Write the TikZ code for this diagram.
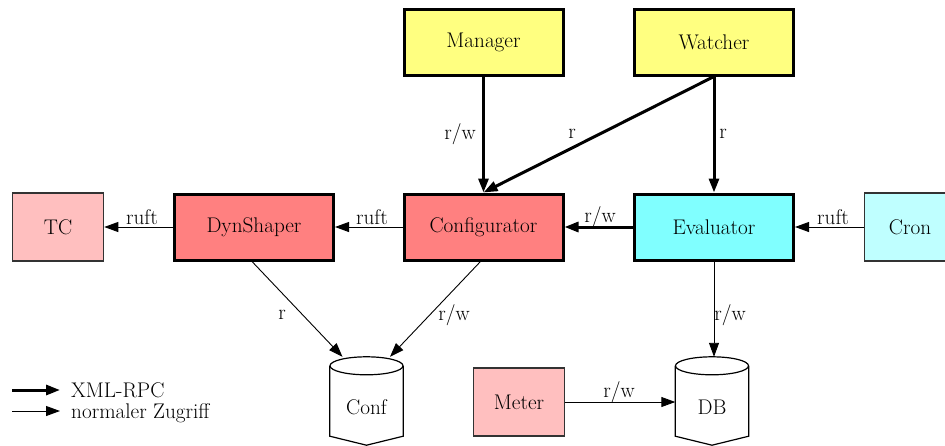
\documentclass[tikz,border=0pt]{standalone}
\usepackage{fontspec}
\usetikzlibrary{arrows.meta}

\definecolor{yel}{RGB}{255,255,128}
\definecolor{red1}{RGB}{255,128,128}
\definecolor{red2}{RGB}{255,191,191}
\definecolor{cya1}{RGB}{128,255,255}
\definecolor{cya2}{RGB}{191,255,255}

\tikzset{
  txt/.style={font=\fontsize{21.2}{25}\selectfont},
  bigbox/.style={txt, draw=black, line width=3pt, minimum width=159pt, minimum height=66pt, inner sep=0pt},
  smallbox/.style={txt, draw=black!80, line width=1.5pt, minimum width=91pt, minimum height=68pt, inner sep=0pt},
  cylbox/.style={txt, minimum width=73pt, minimum height=88pt, inner sep=0pt},
  lbl/.style={txt, inner sep=0pt},
  tip/.style={-{Triangle[length=14pt,width=10pt]}},
  rpc/.style={tip, line width=3pt},
  plain/.style={tip, line width=0.9pt},
}

% cylinder outline around a named node
\newcommand{\drumshape}[1]{%
  \draw[line width=1.2pt, fill=white]
    ([yshift=-9pt]#1.north west) -- ([yshift=9pt]#1.south west) -- (#1.south)
    -- ([yshift=9pt]#1.south east) -- ([yshift=-9pt]#1.north east);
  \draw[line width=1.2pt, fill=white] ([yshift=-9pt]#1.north) ellipse (36.5pt and 9pt);
}

\begin{document}
\begin{tikzpicture}[x=1pt, y=-1pt]
\useasboundingbox (0,0) rectangle (945,445);
\begin{scope}
\clip (0,0) rectangle (945,445);

% components
\node[bigbox, fill=yel]  (mgr)  at (483.5,42) {Manager};
\node[bigbox, fill=yel]  (wat)  at (714,42)   {Watcher};
\node[bigbox, fill=red1] (dyn)  at (254,227)  {DynShaper};
\node[bigbox, fill=red1] (cfg)  at (483.5,227){Configurator};
\node[bigbox, fill=cya1] (eval) at (714,227)  {Evaluator};
\node[smallbox, fill=red2] (tc)   at (58,227)   {TC};
\node[smallbox, fill=cya2] (cron) at (910,227)  {Cron};
\node[smallbox, fill=red2] (meter) at (519,402) {Meter};

% data stores
\node[cylbox] (conf) at (366.5,401) {};
\drumshape{conf}
\node[cylbox] (db) at (712,401) {};
\drumshape{db}
\node[lbl] (conftxt) at (366.5,407) {Conf};
\node[lbl] (dbtxt) at (712,407) {DB};

% XML-RPC calls
\draw[rpc] (mgr.south) -- (cfg.north);
\draw[rpc] (wat.south) -- (cfg.north);
\draw[rpc] (wat.south) -- (eval.north);
\draw[rpc] (eval.west) -- (cfg.east);

% plain accesses
\draw[plain] (cfg.west) -- (dyn.east);
\draw[plain] (dyn.west) -- (tc.east);
\draw[plain] (cron.west) -- (eval.east);
\draw[plain] ([xshift=-2pt]dyn.south) -- ([xshift=-24pt]conf.north);
\draw[plain] ([xshift=-3pt]cfg.south) -- ([xshift=23.5pt]conf.north);
\draw[plain] (eval.south) -- ([xshift=2pt]db.north);
\draw[plain] (meter.east) -- (meter.east -| db.west);

% edge labels
\node[lbl] (l1) at (460,134) {r/w};
\node[lbl] (l2) at (572,134) {r};
\node[lbl] (l3) at (723,134) {r};
\node[lbl] (l4) at (600,217) {r/w};
\node[lbl] (l5) at (372,217) {ruft};
\node[lbl] (l6) at (142,217) {ruft};
\node[lbl] (l7) at (833,217) {ruft};
\node[lbl] (l8) at (282,315) {r};
\node[lbl] (l9) at (454,315) {r/w};
\node[lbl] (l10) at (730,315) {r/w};
\node[lbl] (l11) at (619,392) {r/w};

% legend
\coordinate (ka) at (12,390);
\coordinate (kb) at (60,390);
\coordinate (kc) at (12,411);
\coordinate (kd) at (60,411);
\draw[rpc] (ka) -- (kb);
\draw[plain] (kc) -- (kd);
\node[lbl, anchor=base west] (k1) at (71,397) {XML-RPC};
\node[lbl, anchor=base west] (k2) at (71,418) {normaler Zugriff};
\end{scope}
\end{tikzpicture}
\end{document}
